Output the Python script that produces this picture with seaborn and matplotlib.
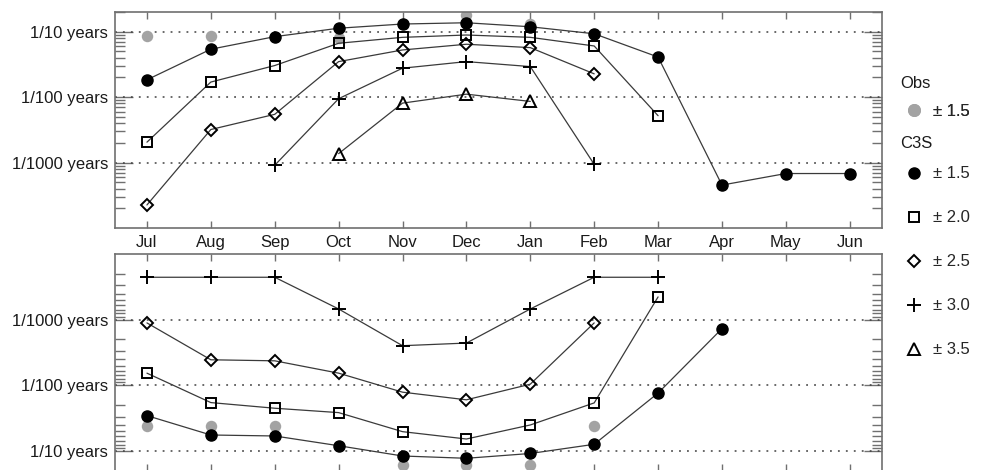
import numpy as np
import pandas as pd
import matplotlib
matplotlib.use("Agg")
import matplotlib.pyplot as plt
import matplotlib.ticker as mticker
from matplotlib.lines import Line2D
import seaborn as sns

nan = np.nan
months = ['Jul', 'Aug', 'Sep', 'Oct', 'Nov', 'Dec', 'Jan', 'Feb', 'Mar', 'Apr', 'May', 'Jun']
ytick_values = [0.1, 0.01, 0.001]
ytick_labels = ['1/10 years', '1/100 years', '1/1000 years']

# upper panel
obs_top = [0.086, 0.086, nan, 0.080, nan, 0.177, 0.132, nan, nan, nan, nan, nan]
c15_top = [0.0184, 0.054, 0.084, 0.113, 0.131, 0.137, 0.119, 0.093, 0.041, 0.000453, 0.00068, 0.00068]
c20_top = [0.00205, 0.017, 0.0304, 0.0666, 0.082, 0.089, 0.082, 0.0605, 0.0052, nan, nan, nan]
c25_top = [0.000225, 0.0032, 0.00546, 0.0349, 0.0526, 0.0643, 0.0571, 0.0227, nan, nan, nan, nan]
c30_top = [nan, nan, 0.00091, 0.00946, 0.0277, 0.0349, 0.0293, 0.00094, nan, nan, nan, nan]
c35_top = [nan, nan, nan, 0.00137, 0.0081, 0.0111, 0.0086, nan, nan, nan, nan, nan]

# lower panel
obs_bot = [0.041, 0.041, 0.041, nan, 0.164, 0.164, 0.164, 0.041, nan, nan, nan, nan]
c15_bot = [0.0289, 0.057, 0.059, 0.083, 0.119, 0.129, 0.109, 0.079, 0.0131, 0.00137, nan, nan]
c20_bot = [0.00652, 0.0183, 0.0223, 0.026, 0.0507, 0.0656, 0.0401, 0.0185, 0.00045, nan, nan, nan]
c25_bot = [0.00112, 0.00408, 0.00423, 0.00652, 0.0127, 0.0166, 0.0096, 0.00112, nan, nan, nan, nan]
c30_bot = [0.000226, 0.000226, 0.000226, 0.000687, 0.00249, 0.00227, 0.000687, 0.000226, 0.000226, nan, nan, nan]
c35_bot = [nan] * 12

legend_labels = ['\u00b1 1.5', '\u00b1 2.0', '\u00b1 2.5', '\u00b1 3.0', '\u00b1 3.5']

sns.set_style("white")
plt.rcParams['font.family'] = ['Liberation Sans', 'DejaVu Sans']
plt.rcParams['font.size'] = 12

LINE_C = '#3a3a3a'
GRAY = '#a3a3a3'
SPINE_C = '#707070'

styles = [
    dict(marker='o', markersize=8, markerfacecolor='black', markeredgecolor='black', markeredgewidth=1.0),
    dict(marker='s', markersize=7.5, markerfacecolor='none', markeredgecolor='black', markeredgewidth=1.4),
    dict(marker='D', markersize=6.4, markerfacecolor='none', markeredgecolor='black', markeredgewidth=1.4),
    dict(marker='+', markersize=10, markerfacecolor='none', markeredgecolor='black', markeredgewidth=1.4),
    dict(marker='^', markersize=8.5, markerfacecolor='none', markeredgecolor='black', markeredgewidth=1.4),
]

fig = plt.figure(figsize=(9.86, 4.70), dpi=100)
W, H = 986.0, 470.0
left, right = 115.0, 881.7
ax_top = fig.add_axes([left / W, 1 - 228.0 / H, (right - left) / W, (228.0 - 12.0) / H])
ax_bot = fig.add_axes([left / W, 1 - 470.8 / H, (right - left) / W, (470.8 - 254.0) / H])

x = np.arange(len(months))


def draw(ax, obs, series):
    d = pd.DataFrame({'x': x, 'y': obs}).dropna()
    sns.scatterplot(data=d, x='x', y='y', ax=ax, color=GRAY, s=68, linewidth=0, zorder=2)
    for vals, st in zip(series, styles):
        d = pd.DataFrame({'x': x, 'y': vals}).dropna()
        if d.empty:
            continue
        sns.lineplot(data=d, x='x', y='y', ax=ax, color=LINE_C, linewidth=0.9,
                     zorder=3, **st)


draw(ax_top, obs_top, [c15_top, c20_top, c25_top, c30_top, c35_top])
draw(ax_bot, obs_bot, [c15_bot, c20_bot, c25_bot, c30_bot, c35_bot])

for ax, inverted in ((ax_top, False), (ax_bot, True)):
    ax.set_yscale('log')
    if inverted:
        ax.set_ylim(0.2, 1e-4)
    else:
        ax.set_ylim(1e-4, 0.2)
    ax.set_xlim(-0.5, 11.5)
    ax.set_xlabel('')
    ax.set_ylabel('')
    ax.yaxis.set_major_locator(mticker.FixedLocator(ytick_values))
    ax.yaxis.set_major_formatter(mticker.FixedFormatter(ytick_labels))
    ax.yaxis.set_minor_locator(mticker.LogLocator(base=10, subs=np.arange(2, 10), numticks=20))
    ax.yaxis.set_minor_formatter(mticker.NullFormatter())
    ax.set_xticks(x)
    ax.set_xticklabels(months)
    for yv in ytick_values:
        ax.axhline(yv, color='#404040', linestyle=(0, (1.2, 4.0)), linewidth=1.1, zorder=1)
    for sp in ax.spines.values():
        sp.set_color(SPINE_C)
        sp.set_linewidth(1.2)
    ax.tick_params(axis='y', which='major', direction='in', length=13, width=1.0,
                   color=SPINE_C, left=True, right=True, pad=5, labelsize=12, labelcolor='#1a1a1a')
    ax.tick_params(axis='y', which='minor', direction='in', length=7, width=1.0,
                   color=SPINE_C, left=True, right=True)
    ax.tick_params(axis='x', which='major', direction='in', length=5, width=1.0,
                   color=SPINE_C, top=True, bottom=True, pad=5, labelsize=12, labelcolor='#1a1a1a')

ax_bot.tick_params(axis='x', labelbottom=False)

# legends
fig.text(900.5 / W, 1 - 83.0 / H, 'Obs', ha='left', va='center', fontsize=12, color='#1a1a1a')
fig.text(900.5 / W, 1 - 143.0 / H, 'C3S', ha='left', va='center', fontsize=12, color='#1a1a1a')

obs_handle = Line2D([], [], linestyle='none', marker='o', markersize=8.3,
                    markerfacecolor=GRAY, markeredgecolor=GRAY)
leg1 = fig.legend([obs_handle], [legend_labels[0]], loc='center left',
                  bbox_to_anchor=(905.7 / W, 1 - 111.0 / H), bbox_transform=fig.transFigure,
                  frameon=False, borderpad=0, borderaxespad=0, handlelength=1.0,
                  handletextpad=0.62, fontsize=12)
fig.add_artist(leg1)

c3s_handles = [Line2D([], [], linestyle='none', **st) for st in styles]
leg2 = fig.legend(c3s_handles, legend_labels, loc='upper left',
                  bbox_to_anchor=(905.7 / W, 1 - 166.5 / H), bbox_transform=fig.transFigure,
                  frameon=False, borderpad=0, borderaxespad=0, handlelength=1.0,
                  handletextpad=0.62, labelspacing=1.74, fontsize=12)

fig.savefig('out.png', dpi=100)
